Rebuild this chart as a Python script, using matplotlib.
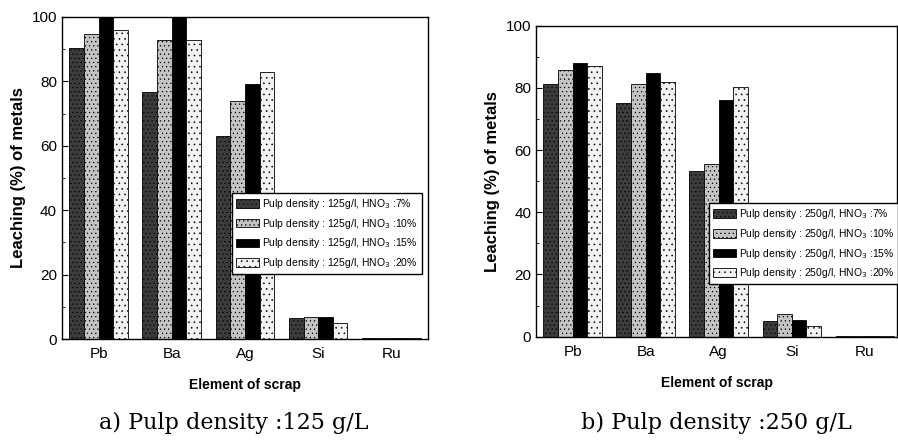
import matplotlib
matplotlib.use("Agg")
import matplotlib.pyplot as plt
import numpy as np
from matplotlib.ticker import MultipleLocator

elements = ["Pb", "Ba", "Ag", "Si", "Ru"]
hno3_levels = ["7%", "10%", "15%", "20%"]

# leaching (%), one list per HNO3 concentration
leach_125 = [
    [90.5, 76.8, 63.1, 6.6, 0.2],
    [94.6, 92.9, 73.9, 6.8, 0.2],
    [100.0, 100.0, 79.2, 6.8, 0.2],
    [96.0, 92.9, 82.8, 5.0, 0.3],
]
leach_250 = [
    [81.3, 75.2, 53.2, 5.1, 0.3],
    [85.7, 81.3, 55.4, 7.2, 0.2],
    [88.1, 84.8, 76.1, 5.4, 0.3],
    [87.0, 82.0, 80.2, 3.4, 0.2],
]

# bar styles: dark dotted, gray dotted, solid black, light dotted
STYLES = [
    dict(facecolor="#3c3c3c", hatch="...."),
    dict(facecolor="#c4c4c4", hatch="...."),
    dict(facecolor="black", hatch=None),
    dict(facecolor="#f2f2f2", hatch="..."),
]

plt.rcParams["font.family"] = ["Liberation Sans", "DejaVu Sans"]
plt.rcParams["hatch.linewidth"] = 0.4
plt.rcParams["hatch.color"] = "#555555"

LEGEND_FONT = dict(family=["Liberation Sans Narrow", "Liberation Sans"], size=7.5)


def draw_panel(ax, data, density, xmax):
    x = np.arange(1, len(elements) + 1)
    width = 0.2
    for i, (vals, style) in enumerate(zip(data, STYLES)):
        label = f"Pulp density : {density}g/l, HNO$_3$ :{hno3_levels[i]}"
        ax.bar(x + (i - 1.5) * width, vals, width, label=label,
               edgecolor="black", linewidth=0.6, **style)
    ax.set_xlim(0.5, xmax)
    ax.set_ylim(0, 100)
    ax.set_xticks(x)
    ax.set_xticklabels(elements, fontsize=11)
    ax.yaxis.set_major_locator(MultipleLocator(20))
    ax.yaxis.set_minor_locator(MultipleLocator(10))
    ax.tick_params(axis="y", direction="in", labelsize=11, length=4)
    ax.tick_params(axis="y", which="minor", direction="in", length=2)
    ax.tick_params(axis="x", length=0, pad=6)
    ax.set_ylabel("Leaching (%) of metals", fontsize=12, fontweight="bold", labelpad=4)
    ax.set_xlabel("Element of scrap", fontsize=10, fontweight="bold", labelpad=12)
    for sp in ax.spines.values():
        sp.set_linewidth(1.0)


fig = plt.figure(figsize=(8.98, 4.4), dpi=100)

ax1 = fig.add_axes([0.069, 0.2295, 0.4076, 0.732])
draw_panel(ax1, leach_125, 125, 5.5)
ax1.legend(loc="upper left", bbox_to_anchor=(0.465, 0.454), fancybox=False,
           edgecolor="black", framealpha=1, borderaxespad=0, prop=LEGEND_FONT,
           handlelength=2.2, handleheight=0.9, labelspacing=0.55, handletextpad=0.3)

ax2 = fig.add_axes([0.5969, 0.2348, 0.4020, 0.7068])
draw_panel(ax2, leach_250, 250, 5.44)
ax2.legend(loc="upper left", bbox_to_anchor=(0.478, 0.43), fancybox=False,
           edgecolor="black", framealpha=1, borderaxespad=0, prop=LEGEND_FONT,
           handlelength=2.2, handleheight=0.9, labelspacing=0.55, handletextpad=0.3)

cap_font = dict(family=["DejaVu Serif"], fontsize=16, ha="center", va="center")
fig.text(234 / 898, 1 - 423 / 440, "a) Pulp density :125 g/L", **cap_font)
fig.text(716 / 898, 1 - 423 / 440, "b) Pulp density :250 g/L", **cap_font)

fig.savefig("out.png", dpi=100)
